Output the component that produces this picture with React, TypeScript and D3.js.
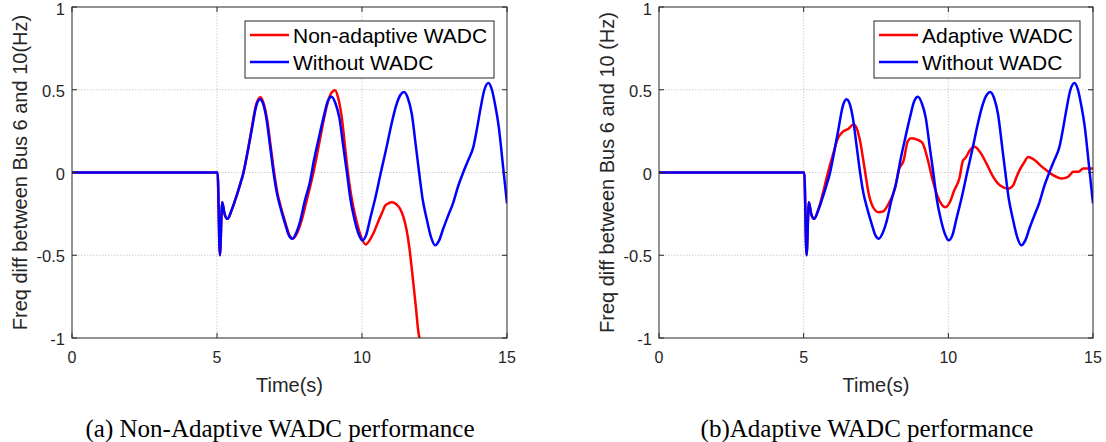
import * as d3 from 'd3';

// time axis ticks and value axis ticks
const xTicks = [0, 5, 10, 15];
const yTicks = [-1, -0.5, 0, 0.5, 1];

// Without WADC (blue) - same run in both panels
const withoutT = [0, 5.02, 5.1, 5.18, 5.26, 5.36, 5.5, 5.64, 5.8, 5.9, 6.05, 6.2, 6.35, 6.48, 6.6, 6.7, 6.83, 6.95, 7.06, 7.2, 7.35, 7.48, 7.6, 7.72, 7.86, 8.03, 8.2, 8.35, 8.5, 8.67, 8.82, 8.95, 9.08, 9.22, 9.36, 9.48, 9.6, 9.75, 9.88, 10.01, 10.14, 10.28, 10.45, 10.65, 10.85, 11.0, 11.2, 11.33, 11.45, 11.58, 11.72, 11.85, 11.97, 12.09, 12.23, 12.38, 12.52, 12.66, 12.8, 12.95, 13.15, 13.32, 13.49, 13.65, 13.84, 13.96, 14.08, 14.22, 14.36, 14.48, 14.6, 14.72, 14.85, 15];
const withoutV = [0, 0, -0.5, -0.18, -0.25, -0.28, -0.23, -0.16, -0.07, -0.01, 0.12, 0.26, 0.4, 0.443, 0.41, 0.33, 0.16, 0, -0.12, -0.22, -0.31, -0.38, -0.4, -0.37, -0.3, -0.17, -0.06, 0.08, 0.2, 0.33, 0.43, 0.457, 0.42, 0.33, 0.15, 0, -0.16, -0.29, -0.37, -0.41, -0.38, -0.28, -0.16, 0, 0.155, 0.28, 0.417, 0.47, 0.487, 0.45, 0.35, 0.17, 0, -0.16, -0.28, -0.39, -0.44, -0.41, -0.34, -0.27, -0.18, -0.08, 0, 0.07, 0.155, 0.26, 0.38, 0.5, 0.541, 0.5, 0.4, 0.27, 0.06, -0.187];

// Non-adaptive WADC (red, panel a)
const nonAdaptiveT = [0, 5.02, 5.1, 5.18, 5.26, 5.36, 5.5, 5.64, 5.8, 5.9, 6.05, 6.2, 6.35, 6.5, 6.62, 6.72, 6.85, 6.97, 7.08, 7.22, 7.37, 7.5, 7.62, 7.75, 7.9, 8.09, 8.3, 8.55, 8.72, 8.84, 8.96, 9.07, 9.18, 9.3, 9.45, 9.55, 9.69, 9.82, 9.95, 10.13, 10.26, 10.39, 10.55, 10.68, 10.8, 10.91, 11.0, 11.08, 11.2, 11.31, 11.43, 11.54, 11.63, 11.71, 11.85, 11.97, 12.0];
const nonAdaptiveV = [0, 0, -0.5, -0.18, -0.25, -0.28, -0.23, -0.16, -0.07, -0.01, 0.12, 0.27, 0.41, 0.455, 0.41, 0.33, 0.16, 0, -0.12, -0.22, -0.31, -0.38, -0.4, -0.37, -0.3, -0.17, -0.02, 0.2, 0.35, 0.437, 0.485, 0.497, 0.45, 0.336, 0.1, -0.05, -0.2, -0.3, -0.38, -0.435, -0.41, -0.369, -0.3, -0.248, -0.2, -0.187, -0.18, -0.181, -0.195, -0.218, -0.27, -0.349, -0.45, -0.57, -0.8, -0.99, -1];

// Adaptive WADC (red, panel b)
const adaptiveT = [0, 5.02, 5.1, 5.18, 5.26, 5.36, 5.55, 5.7, 5.84, 6.0, 6.19, 6.35, 6.55, 6.72, 6.8, 6.95, 7.1, 7.25, 7.4, 7.59, 7.75, 7.9, 8.15, 8.3, 8.45, 8.6, 8.72, 8.9, 9.1, 9.3, 9.45, 9.64, 9.9, 10.05, 10.2, 10.39, 10.5, 10.6, 10.75, 10.91, 11.09, 11.32, 11.55, 11.78, 12.07, 12.25, 12.35, 12.45, 12.6, 12.76, 12.99, 13.2, 13.39, 13.62, 13.91, 14.14, 14.25, 14.31, 14.5, 14.66, 15];
const adaptiveV = [0, 0, -0.5, -0.18, -0.25, -0.28, -0.2, -0.1, 0, 0.1, 0.21, 0.245, 0.265, 0.29, 0.28, 0.19, 0.03, -0.13, -0.21, -0.24, -0.235, -0.2, -0.1, 0.02, 0.07, 0.19, 0.207, 0.2, 0.18, 0.07, -0.04, -0.15, -0.21, -0.18, -0.11, -0.03, 0.07, 0.09, 0.135, 0.155, 0.125, 0.054, -0.026, -0.077, -0.097, -0.075, -0.03, 0.01, 0.055, 0.094, 0.074, 0.04, 0.014, -0.016, -0.036, -0.026, -0.005, 0.004, 0.004, 0.024, 0.024];

const sans = '"Liberation Sans", Arial, Helvetica, sans-serif';
const serif = '"Liberation Serif", "Times New Roman", serif';
const ink = '#262626';

type PanelProps = {
  left: number;
  right: number;
  redT: number[];
  redV: number[];
  redLabel: string;
  yLabel: string;
  caption: string;
  captionX: number;
  legendW: number;
  id: string;
};

function Panel({ left, right, redT, redV, redLabel, yLabel, caption, captionX, legendW, id }: PanelProps) {
  const top = 7;
  const bottom = 338;
  const x = d3.scaleLinear().domain([0, 15]).range([left, right]);
  const y = d3.scaleLinear().domain([-1, 1]).range([bottom, top]);
  const line = d3.line<[number, number]>()
    .x(d => x(d[0]))
    .y(d => y(d[1]))
    .curve(d3.curveMonotoneX);
  const red = redT.map((t, i) => [t, redV[i]] as [number, number]);
  const blue = withoutT.map((t, i) => [t, withoutV[i]] as [number, number]);
  const lx = right - 13 - legendW;
  const ly = 21;
  const tickLen = 5;

  return (
    <g>
      <defs>
        <clipPath id={id}>
          <rect x={left} y={top} width={right - left} height={bottom - top} />
        </clipPath>
      </defs>
      <rect x={left} y={top} width={right - left} height={bottom - top} fill="#fff" />
      {/* grid */}
      {xTicks.slice(1, -1).map(t => (
        <line key={'gx' + t} x1={x(t)} x2={x(t)} y1={top} y2={bottom} stroke="#c4c4c4" strokeWidth={0.8} strokeDasharray="1.5 1.5" />
      ))}
      {yTicks.slice(1, -1).map(t => (
        <line key={'gy' + t} x1={left} x2={right} y1={y(t)} y2={y(t)} stroke="#c4c4c4" strokeWidth={0.8} strokeDasharray="1.5 1.5" />
      ))}
      {/* curves */}
      <g clipPath={`url(#${id})`}>
        <path d={line(red) || ''} fill="none" stroke="#ff0000" strokeWidth={2.5} strokeLinejoin="round" />
        <path d={line(blue) || ''} fill="none" stroke="#0000ff" strokeWidth={2.5} strokeLinejoin="round" />
      </g>
      {/* box and ticks */}
      <rect x={left} y={top} width={right - left} height={bottom - top} fill="none" stroke={ink} strokeWidth={1} />
      {xTicks.map(t => (
        <g key={'tx' + t}>
          <line x1={x(t)} x2={x(t)} y1={bottom} y2={bottom - tickLen} stroke={ink} />
          <line x1={x(t)} x2={x(t)} y1={top} y2={top + tickLen} stroke={ink} />
          <text x={x(t)} y={363} textAnchor="middle" fontFamily={sans} fontSize={16} fill={ink}>{t}</text>
        </g>
      ))}
      {yTicks.map(t => (
        <g key={'ty' + t}>
          <line x1={left} x2={left + tickLen} y1={y(t)} y2={y(t)} stroke={ink} />
          <line x1={right} x2={right - tickLen} y1={y(t)} y2={y(t)} stroke={ink} />
          <text x={left - 7} y={Math.max(y(t) + 7, 15)} textAnchor="end" fontFamily={sans} fontSize={16.5} fill={ink}>{t}</text>
        </g>
      ))}
      <text x={(left + right) / 2} y={392} textAnchor="middle" fontFamily={sans} fontSize={20} fill={ink}>Time(s)</text>
      <text transform={`translate(${left - 45},${(top + bottom) / 2}) rotate(-90)`} textAnchor="middle" fontFamily={sans} fontSize={20} fill={ink}>{yLabel}</text>
      {/* legend */}
      <rect x={lx} y={ly} width={legendW} height={57} fill="#fff" stroke={ink} strokeWidth={1} />
      <line x1={lx + 5} x2={lx + 44} y1={ly + 14} y2={ly + 14} stroke="#ff0000" strokeWidth={2.5} />
      <text x={lx + 48} y={ly + 22} fontFamily={sans} fontSize={21} fill="#000">{redLabel}</text>
      <line x1={lx + 5} x2={lx + 44} y1={ly + 41} y2={ly + 41} stroke="#0000ff" strokeWidth={2.5} />
      <text x={lx + 48} y={ly + 49} fontFamily={sans} fontSize={21} fill="#000">Without WADC</text>
      {/* caption */}
      <text x={captionX} y={437} textAnchor="middle" fontFamily={serif} fontSize={25} fill="#000">{caption}</text>
    </g>
  );
}

export default function App() {
  return (
    <div style={{ position: 'absolute', left: 0, top: 0 }}>
      <svg width={1106} height={442} style={{ display: 'block', background: '#fff' }}>
        <Panel
          id="clipA"
          left={72}
          right={507}
          redT={nonAdaptiveT}
          redV={nonAdaptiveV}
          redLabel="Non-adaptive WADC"
          yLabel="Freq diff between Bus 6 and 10(Hz)"
          caption="(a) Non-Adaptive WADC performance"
          captionX={280}
          legendW={249}
        />
        <Panel
          id="clipB"
          left={659}
          right={1093}
          redT={adaptiveT}
          redV={adaptiveV}
          redLabel="Adaptive WADC"
          yLabel="Freq diff between Bus 6 and 10 (Hz)"
          caption="(b)Adaptive WADC performance"
          captionX={867}
          legendW={206}
        />
      </svg>
    </div>
  );
}
